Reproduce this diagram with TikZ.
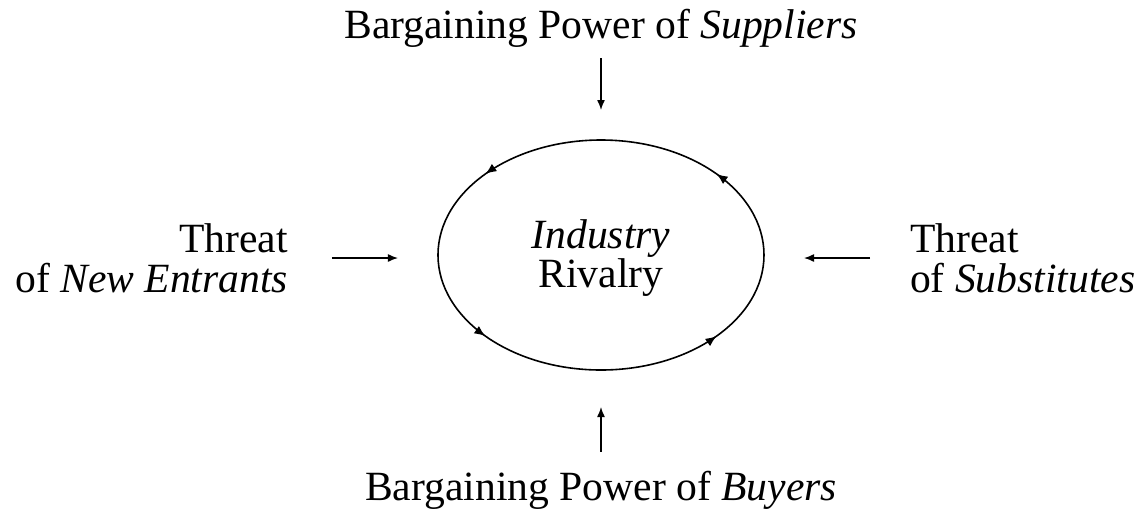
\documentclass[tikz,border=0pt]{standalone}
\usepackage{fontspec}
\setmainfont{Liberation Serif}
\usetikzlibrary{arrows.meta,decorations.markings,shapes.geometric}

\begin{document}
\fontsize{20.8}{20}\selectfont
\begin{tikzpicture}[x=0.5pt,y=0.5pt,
		force/.style={line width=0.7pt,-{Latex[length=5pt,width=4pt]}},
		txt/.style={inner sep=0pt,outer sep=0pt},
		rim/.style={line width=0.8pt,postaction={decorate},
			decoration={markings,
				mark=at position 0.111 with {\arrow{Latex[length=5.5pt,width=4.5pt]}},
				mark=at position 0.389 with {\arrow{Latex[length=5.5pt,width=4.5pt]}},
				mark=at position 0.611 with {\arrow{Latex[length=5.5pt,width=4.5pt]}},
				mark=at position 0.889 with {\arrow{Latex[length=5.5pt,width=4.5pt]}}}}]
		\useasboundingbox (-601,-256) rectangle (540,255);
		\node[txt,ellipse,minimum width=163pt,minimum height=115pt,align=center,
			font=\fontsize{20.8}{18}\selectfont] (rival) at (0,-3) {\textit{Industry}\\Rivalry};
		\draw[rim] (0,0) ellipse [x radius=163, y radius=115];
		\node[txt] (sup) at (0,227) {Bargaining Power of \textit{Suppliers}};
		\node[txt] (buy) at (0,-235) {Bargaining Power of \textit{Buyers}};
		\node[txt,anchor=east,align=right] (entr) at (-313,-3) {Threat\\of \textit{New Entrants}};
		\node[txt,anchor=west,align=left] (subs) at (309,-3) {Threat\\of \textit{Substitutes}};
		\draw[force] ([yshift=-5.5pt]sup.south) -- ([yshift=16.5pt]rival.north);
		\draw[force] ([yshift=9.5pt]buy.north) -- ([yshift=-17pt]rival.south);
		\draw[force] (rival.west -| entr.east) ++(22pt,0) -- ([xshift=-20pt]rival.west);
		\draw[force] (rival.east -| subs.west) ++(-20pt,0) -- ([xshift=20pt]rival.east);
	\end{tikzpicture}
\end{document}
